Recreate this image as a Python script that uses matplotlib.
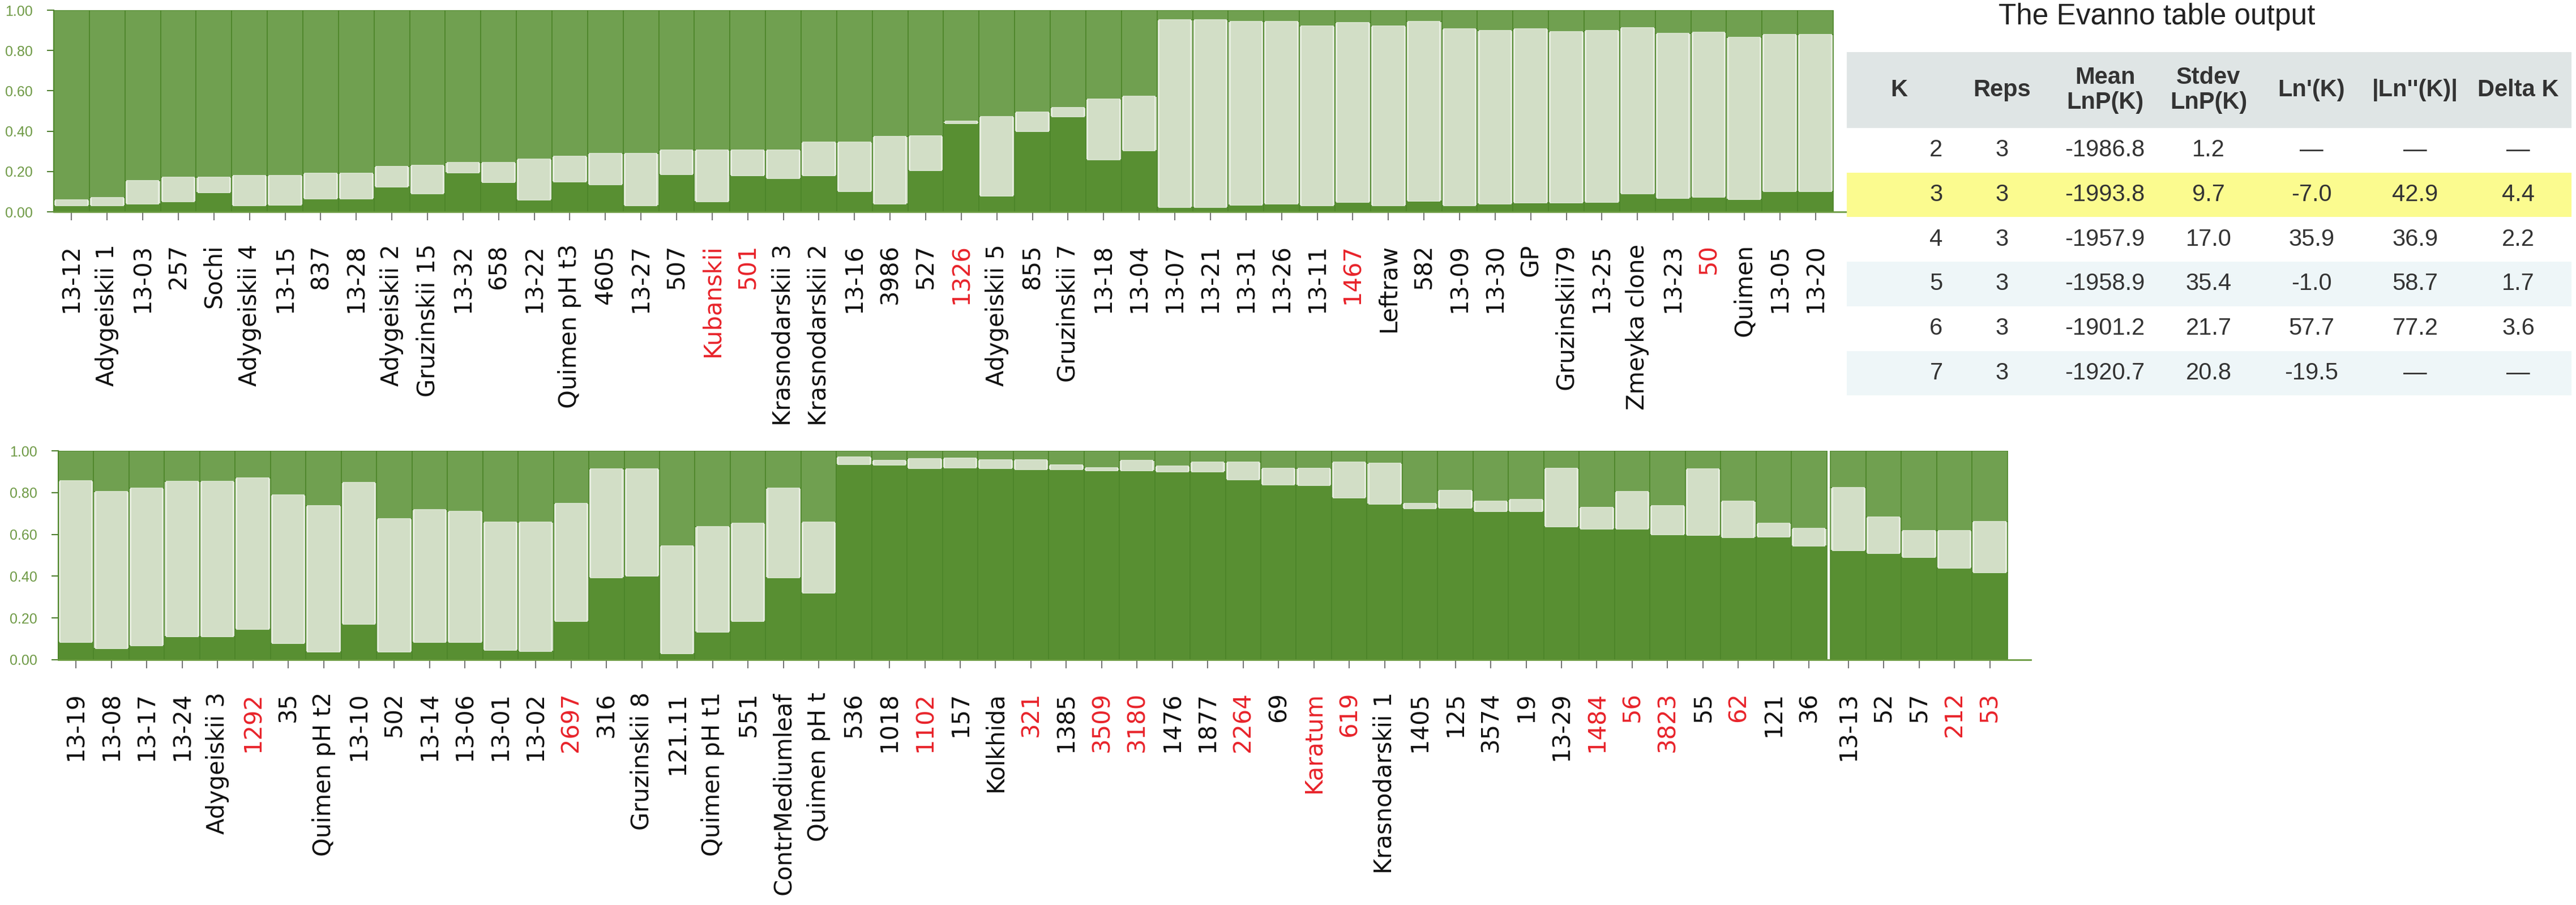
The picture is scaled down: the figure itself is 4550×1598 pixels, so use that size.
import matplotlib.pyplot as plt
from matplotlib.patches import Rectangle

# ---- top panel data (q1 = dark lower cluster, q2 = pale middle cluster) ----
top_names = ['13-12', 'Adygeiskii 1', '13-03', '257', 'Sochi', 'Adygeiskii 4', '13-15', '837',
             '13-28', 'Adygeiskii 2', 'Gruzinskii 15', '13-32', '658', '13-22', 'Quimen pH t3',
             '4605', '13-27', '507', 'Kubanskii', '501', 'Krasnodarskii 3', 'Krasnodarskii 2',
             '13-16', '3986', '527', '1326', 'Adygeiskii 5', '855', 'Gruzinskii 7', '13-18',
             '13-04', '13-07', '13-21', '13-31', '13-26', '13-11', '1467', 'Leftraw', '582',
             '13-09', '13-30', 'GP', 'Gruzinskii79', '13-25', 'Zmeyka clone', '13-23', '50',
             'Quimen', '13-05', '13-20']
top_q1 = [0.03, 0.03, 0.04, 0.05, 0.095, 0.03, 0.035, 0.065, 0.065, 0.125,
          0.09, 0.195, 0.145, 0.06, 0.15, 0.135, 0.03, 0.185, 0.05, 0.18,
          0.165, 0.18, 0.10, 0.04, 0.205, 0.437, 0.08, 0.40, 0.472, 0.259,
          0.304, 0.023, 0.023, 0.033, 0.039, 0.03, 0.047, 0.03, 0.053, 0.03,
          0.039, 0.044, 0.044, 0.049, 0.089, 0.067, 0.072, 0.061, 0.10, 0.10]
top_q2 = [0.03, 0.04, 0.115, 0.12, 0.075, 0.15, 0.145, 0.125, 0.125, 0.10,
          0.14, 0.05, 0.10, 0.20, 0.125, 0.155, 0.26, 0.12, 0.255, 0.125,
          0.14, 0.165, 0.245, 0.335, 0.17, 0.013, 0.392, 0.093, 0.044, 0.299,
          0.268, 0.928, 0.93, 0.911, 0.905, 0.892, 0.89, 0.89, 0.891, 0.877,
          0.861, 0.864, 0.848, 0.851, 0.824, 0.819, 0.818, 0.805, 0.779, 0.779]
top_red = ['Kubanskii', '501', '1326', '1467', '50']

# ---- bottom panel data ----
bot_names = ['13-19', '13-08', '13-17', '13-24', 'Adygeiskii 3', '1292', '35', 'Quimen pH t2',
             '13-10', '502', '13-14', '13-06', '13-01', '13-02', '2697', '316', 'Gruzinskii 8',
             '121.11', 'Quimen pH t1', '551', 'ContrMediumleaf', 'Quimen pH t', '536', '1018',
             '1102', '157', 'Kolkhida', '321', '1385', '3509', '3180', '1476', '1877', '2264',
             '69', 'Karatum', '619', 'Krasnodarskii 1', '1405', '125', '3574', '19', '13-29',
             '1484', '56', '3823', '55', '62', '121', '36', '13-13', '52', '57', '212', '53']
bot_q1 = [0.085, 0.054, 0.067, 0.11, 0.11, 0.147, 0.078, 0.038, 0.171, 0.038,
          0.085, 0.085, 0.047, 0.04, 0.184, 0.393, 0.40, 0.031, 0.132, 0.184,
          0.393, 0.321, 0.935, 0.931, 0.915, 0.919, 0.917, 0.911, 0.911, 0.906,
          0.904, 0.90, 0.90, 0.863, 0.838, 0.834, 0.776, 0.746, 0.724, 0.727,
          0.709, 0.709, 0.637, 0.625, 0.625, 0.60, 0.596, 0.586, 0.587, 0.544,
          0.522, 0.51, 0.49, 0.438, 0.418]
bot_q2 = [0.772, 0.751, 0.753, 0.744, 0.744, 0.723, 0.711, 0.699, 0.676, 0.638,
          0.632, 0.625, 0.611, 0.618, 0.564, 0.52, 0.513, 0.513, 0.506, 0.468,
          0.427, 0.337, 0.036, 0.024, 0.047, 0.045, 0.039, 0.045, 0.022, 0.013,
          0.051, 0.026, 0.047, 0.083, 0.079, 0.083, 0.171, 0.194, 0.024, 0.082,
          0.051, 0.057, 0.28, 0.105, 0.18, 0.137, 0.317, 0.174, 0.065, 0.086,
          0.302, 0.172, 0.127, 0.179, 0.242]
bot_red = ['1292', '2697', '1102', '321', '3509', '3180', '2264', 'Karatum', '619',
           '1484', '56', '3823', '62', '212', '53']
bot_split = 50  # first 50 runs, then a separate block of 5

# ---- Evanno table ----
tab_k = [2, 3, 4, 5, 6, 7]
tab_reps = [3, 3, 3, 3, 3, 3]
tab_mean = [-1986.8, -1993.8, -1957.9, -1958.9, -1901.2, -1920.7]
tab_sd = [1.2, 9.7, 17.0, 35.4, 21.7, 20.8]
tab_ln1 = [None, -7.0, 35.9, -1.0, 57.7, -19.5]
tab_ln2 = [None, 42.9, 36.9, 58.7, 77.2, None]
tab_dk = [None, 4.4, 2.2, 1.7, 3.6, None]
tab_best = 3

W, H = 4550, 1598
C_DARK = '#588f32'
C_MID = '#70a050'
C_PALE = '#d2dec6'
C_EDGE = '#4c8529'
C_TICKLBL = '#6f9a46'

fig = plt.figure(figsize=(W / 100, H / 100), dpi=100)


def px_axes(left, top, right, bottom):
    return fig.add_axes([left / W, 1 - bottom / H, (right - left) / W, (bottom - top) / H])


def structure(ax, xs, q1, q2, names, red, xmax):
    q12 = [a + b for a, b in zip(q1, q2)]
    q3 = [1 - v for v in q12]
    ax.bar(xs, q3, bottom=q12, width=1.0, color=C_MID, edgecolor=C_EDGE, linewidth=1.2)
    ax.bar(xs, q1, width=1.0, color=C_DARK, edgecolor=C_EDGE, linewidth=1.2)
    ax.bar(xs, q2, bottom=q1, width=1.0, color=C_PALE, edgecolor=C_EDGE, linewidth=1.2)
    # faint white bevel inside the pale blocks
    ax.bar(xs, q2, bottom=q1, width=0.9, color='none', edgecolor='#eef3e8', linewidth=1.2)
    ax.set_xlim(-0.5, xmax)
    ax.set_ylim(0, 1)
    ax.set_yticks([0, 0.2, 0.4, 0.6, 0.8, 1.0])
    ax.set_yticklabels(['0.00', '0.20', '0.40', '0.60', '0.80', '1.00'],
                       fontsize=18, color=C_TICKLBL, family='Liberation Sans')
    ax.tick_params(axis='y', length=8.5, width=1.5, color='#4f7f30', pad=18)
    ax.set_xticks(xs)
    ax.set_xticklabels(names, rotation=90, fontsize=30, family='DejaVu Sans')
    ax.tick_params(axis='x', length=11, width=1.3, color='#666666', pad=30)
    for lbl in ax.get_xticklabels():
        lbl.set_color('#e8232a' if lbl.get_text() in red else '#111111')
    for s in ['top', 'right']:
        ax.spines[s].set_visible(False)
    ax.spines['left'].set_color(C_EDGE)
    ax.spines['left'].set_linewidth(1.5)
    ax.spines['bottom'].set_color('#6a9a40')
    ax.spines['bottom'].set_linewidth(2)
    ax.set_facecolor('none')


# top panel
ax1 = px_axes(95, 18, 3265, 374)
x_top = list(range(len(top_names)))
structure(ax1, x_top, top_q1, top_q2, top_names, top_red, 49.93)

# bottom panel, with a small gap before the last block
ax2 = px_axes(103, 796, 3587, 1165)
gap = 0.11
x_bot = [i if i < bot_split else i + gap for i in range(len(bot_names))]
structure(ax2, x_bot, bot_q1, bot_q2, bot_names, bot_red, 55.27)

# table drawn in pixel coordinates
axt = fig.add_axes([0, 0, 1, 1])
axt.set_xlim(0, W)
axt.set_ylim(H, 0)
axt.axis('off')

axt.text(3810, 30, 'The Evanno table output', fontsize=37, color='#222222',
         family='Liberation Sans', ha='center', va='center')

tab_left, tab_right = 3262, 4542
head_top, head_bot = 92, 226
row_h = 78.7
axt.add_patch(Rectangle((tab_left, head_top), tab_right - tab_left, head_bot - head_top,
                        facecolor='#dfe5e5', edgecolor='none'))

head_x = [3354, 3536, 3718, 3901, 4083, 4266, 4448]
head_txt = ['K', 'Reps', 'Mean\nLnP(K)', 'Stdev\nLnP(K)', "Ln'(K)", "|Ln''(K)|", 'Delta K']
for hx, ht in zip(head_x, head_txt):
    axt.text(hx, (head_top + head_bot) / 2, ht, fontsize=30, fontweight='bold', color='#333333',
             family='Liberation Sans', ha='center', va='center', linespacing=1.15)

val_x = [3420, 3536, 3718, 3901, 4083, 4266, 4448]
row_cols = ['white', '#fbfb8f', 'white', '#eef6f8', 'white', '#eef6f8']


def fmt(v):
    return '\u2014' if v is None else f'{v:.1f}'


for i, k in enumerate(tab_k):
    y0 = head_bot + i * row_h
    fc = '#fbfb8f' if k == tab_best else row_cols[i]
    axt.add_patch(Rectangle((tab_left, y0), tab_right - tab_left, row_h,
                            facecolor=fc, edgecolor='none'))
    cells = [str(k), str(tab_reps[i]), fmt(tab_mean[i]), fmt(tab_sd[i]),
             fmt(tab_ln1[i]), fmt(tab_ln2[i]), fmt(tab_dk[i])]
    for cx, ct in zip(val_x, cells):
        axt.text(cx, y0 + row_h / 2, ct, fontsize=30, color='#333333',
                 family='Liberation Sans', ha='center', va='center')

fig.savefig('out.png', dpi=100)
